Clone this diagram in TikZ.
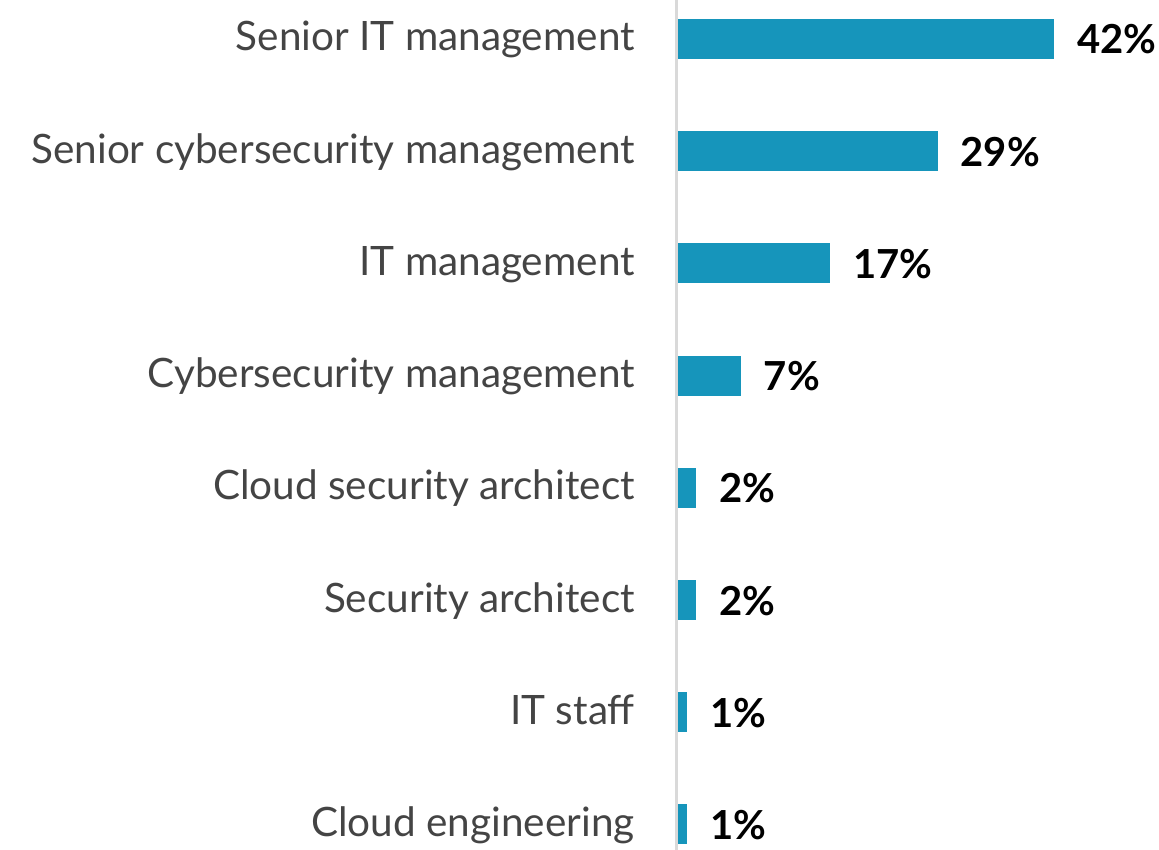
\documentclass[tikz,border=0pt]{standalone}
\usepackage{fontspec}
\setmainfont{Lato}
\definecolor{barc}{RGB}{22,149,187}
\definecolor{labc}{RGB}{68,68,68}
\definecolor{axisc}{RGB}{217,217,217}
\begin{document}
\begin{tikzpicture}[x=1pt,y=-1pt,
  bar/.style={fill=barc,draw=none},
  lab/.style={anchor=base east,inner sep=0pt,text=labc,font=\fontsize{40.5}{44}\selectfont},
  pct/.style={anchor=base west,inner sep=0pt,text=black,font=\fontsize{40}{44}\selectfont\bfseries}]
\useasboundingbox (0,0) rectangle (1159,850);
\draw[axisc,line width=3pt] (676,0) -- (676,850);
\foreach \i/\t/\v in {0/Senior IT management/42,1/Senior cybersecurity management/29,2/IT management/17,3/Cybersecurity management/7,4/Cloud security architect/2,5/Security architect/2,6/IT staff/1,7/Cloud engineering/1}{
  \pgfmathsetmacro{\c}{39+112.2*\i}
  \pgfmathsetmacro{\e}{678+8.95*\v}
  \fill[bar] (678,\c-20) rectangle (\e,\c+20);
  \node[lab] (l\i) at (635,\c+12) {\t};
  \node[pct] (p\i) at (\e+23,\c+15) {\v\%};
}
\end{tikzpicture}
\end{document}
